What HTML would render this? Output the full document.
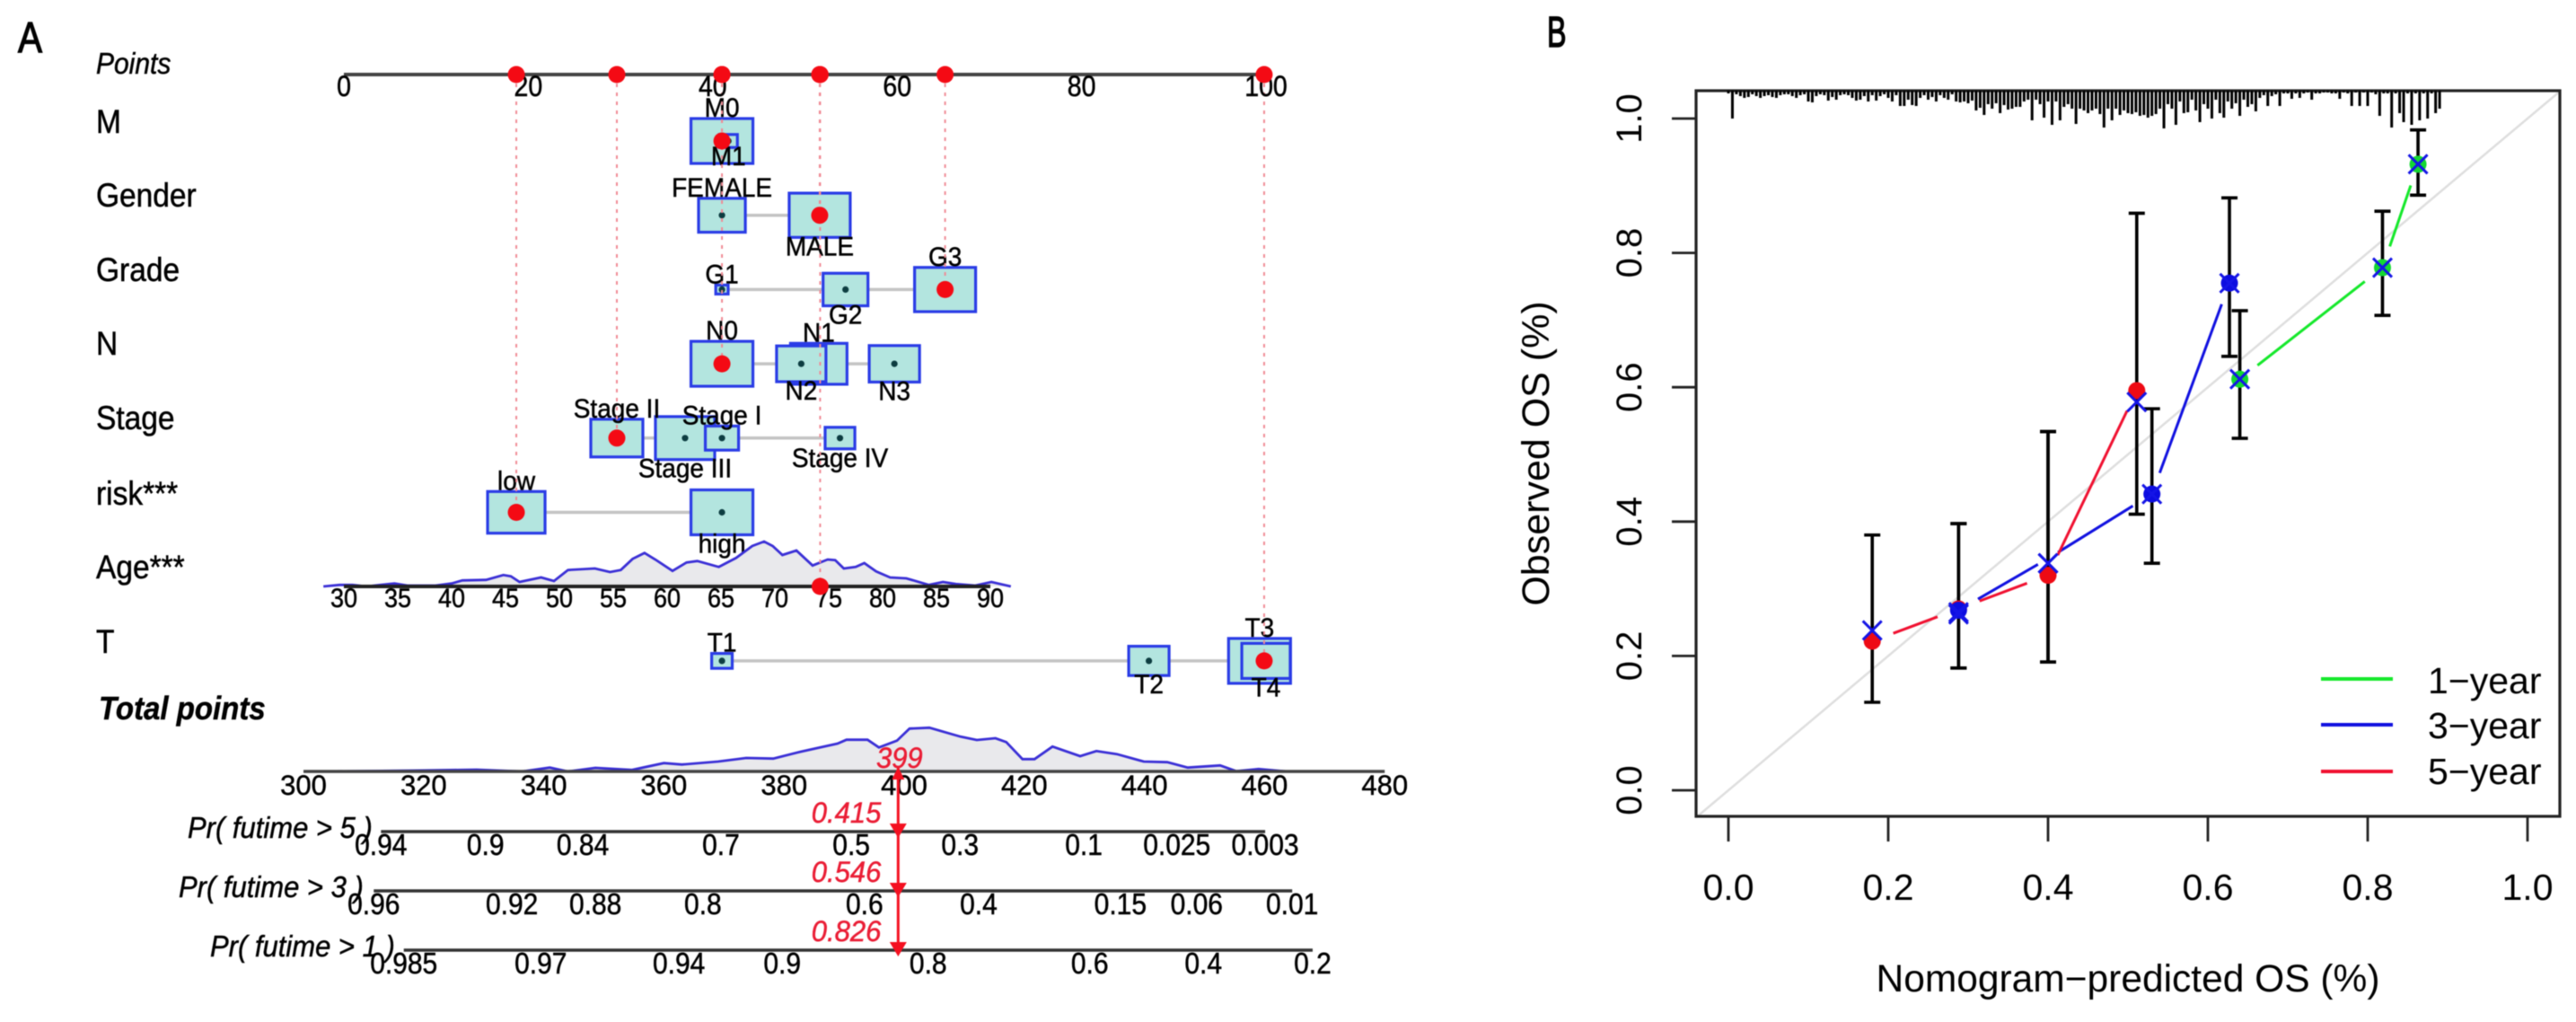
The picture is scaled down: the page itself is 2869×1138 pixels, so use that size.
<!DOCTYPE html>
<html lang="en">
<head>
<meta charset="utf-8">
<title>Nomogram and calibration curve</title>
<style>
html,body{margin:0;padding:0;background:#fff;}
svg{display:block;filter:blur(0.5px);}
text{font-family:"Liberation Sans",sans-serif;fill:#000;}
#panelA text{stroke:#000;stroke-width:.45px;}
</style>
</head>
<body>
<svg id="figure" xmlns="http://www.w3.org/2000/svg" width="2869" height="1138" viewBox="0 0 2869 1138">
<rect width="2869" height="1138" fill="#fff"/>
<g id="panelA">
<text transform="translate(20 58) scale(.88 1.05)" font-size="46" style="stroke-width:1.2px">A</text>
<text transform="translate(107 82) scale(1 1.1)" font-size="30" font-style="italic">Points</text>
<text transform="translate(107 148) scale(1 1.1)" font-size="33.5">M</text>
<text transform="translate(107 230) scale(1 1.1)" font-size="33.5">Gender</text>
<text transform="translate(107 313) scale(1 1.1)" font-size="33.5">Grade</text>
<text transform="translate(107 395) scale(1 1.1)" font-size="33.5">N</text>
<text transform="translate(107 478) scale(1 1.1)" font-size="33.5">Stage</text>
<text transform="translate(107 562) scale(1 1.1)" font-size="33.5">risk***</text>
<text transform="translate(107 644) scale(1 1.1)" font-size="33.5">Age***</text>
<text transform="translate(107 727) scale(1 1.1)" font-size="33.5">T</text>
<text transform="translate(110 801) scale(1 1.1)" font-size="33" font-style="italic" font-weight="bold">Total points</text>
<text transform="translate(209 933) scale(1 1.08)" font-size="31" font-style="italic">Pr( futime &gt; 5 )</text>
<text transform="translate(199 999) scale(1 1.08)" font-size="31" font-style="italic">Pr( futime &gt; 3 )</text>
<text transform="translate(234 1065) scale(1 1.08)" font-size="31" font-style="italic">Pr( futime &gt; 1 )</text>
</g>
<g id="panelB">
<text transform="translate(1723 52) scale(.7 1.05)" font-size="46" style="stroke:#000;stroke-width:1.4px">B</text>
<text transform="translate(1725 505) rotate(-90)" font-size="43" text-anchor="middle">Observed OS (%)</text>
<text x="2370" y="1104" font-size="42.5" text-anchor="middle">Nomogram−predicted OS (%)</text>
<line x1="2585" x2="2665" y1="756" y2="756" stroke="#14e82a" stroke-width="4"/>
<line x1="2585" x2="2665" y1="807" y2="807" stroke="#1010e0" stroke-width="4"/>
<line x1="2585" x2="2665" y1="859" y2="859" stroke="#f01030" stroke-width="4"/>
<text x="2704" y="772" font-size="41">1−year</text>
<text x="2704" y="822" font-size="41">3−year</text>
<text x="2704" y="873" font-size="41">5−year</text>
</g>
</svg>
<script>
// ---------- Panel A data ----------
const pointTicks = [0, 20, 40, 60, 80, 100];
const rowNames = ['m', 'gender', 'grade', 'n', 'stage', 'risk'];

const mLevels = ['M0', 'M1'];
const mPoints = [41, 41.7];
const mFreq = [100, 8.4];
const mSides = ['above', 'below'];

const genderLevels = ['FEMALE', 'MALE'];
const genderPoints = [41, 51.6];
const genderFreq = [57, 97];
const genderSides = ['above', 'below'];

const gradeLevels = ['G1', 'G2', 'G3'];
const gradePoints = [41, 54.4, 65.2];
const gradeFreq = [4, 52.5, 97];
const gradeSides = ['above', 'below', 'above'];

const nLevels = ['N0', 'N1', 'N2', 'N3'];
const nPoints = [41, 51.5, 49.6, 59.7];
const nFreq = [100, 83, 63.5, 66];
const nSides = ['above', 'above', 'below', 'below'];

const stageLevels = ['Stage II', 'Stage III', 'Stage I', 'Stage IV'];
const stagePoints = [29.6, 37, 41, 53.8];
const stageFreq = [70.6, 91.5, 28.8, 23];
const stageSides = ['above', 'below', 'above', 'below'];

const riskLevels = ['low', 'high'];
const riskPoints = [18.7, 41];
const riskFreq = [86, 100];
const riskSides = ['above', 'below'];

const tLevels = ['T1', 'T2', 'T3', 'T4'];
const tPoints = [41, 87.3, 99.3, 100];
const tFreq = [11, 42.5, 100, 61];
const tSides = ['above', 'below', 'above', 'below'];

const selectedPoints = [41, 51.6, 65.2, 41, 29.6, 18.7];
const selectedAge = 74.2;
const selectedT = 99.8;

const ageTicks = [30, 35, 40, 45, 50, 55, 60, 65, 70, 75, 80, 85, 90];
const ageGrid = [28.1,29.6,30.8,32.1,33.4,34.7,35.9,38.5,40,41,43.2,44.8,45.5,46.3,48.3,49.5,50.8,53.3,54.7,55.7,56.8,57.9,58.9,60.5,61.8,62.8,64.8,66.4,67.9,69,69.8,70.7,72,73.5,74.9,75.6,76.4,77.5,78.3,79.4,80.7,82.2,84.3,85.6,86.8,88.6,90.1,91.9];
const ageDensity = [0,1.7,1.7,0,1.7,3.3,1,1,3.3,6.7,7.3,12.7,11.3,5,10,6,18.3,20,16,18.3,30.7,37.3,30,17.3,26.7,28.3,21.7,31.7,45,50,45,35,40,23.3,30,29.3,20,21.7,26,16.7,10,9,1.7,5,2.7,1,5,0];

const totalTicks = [300, 320, 340, 360, 380, 400, 420, 440, 460, 480];
const totalGrid = [304,318.1,328.8,336.4,341,344,348.6,354.7,360,363,369,373.7,378.2,382.8,388.9,390.4,393.9,395.8,398.8,400.9,404.2,409.4,412.1,415.2,417,419.7,421.7,424.7,429.3,432,435.4,439.9,443.8,447.2,452.6,455.3,459,463.7];
const totalDensity = [0,1,2,0,4.3,0,4,1.7,9.3,7.7,11,15,14.3,22,31,35.3,35.3,26.7,34.3,47.7,48.7,38.7,35,37,32.7,13.7,13.7,27.7,17,22.7,19.3,11,10.3,4.3,6.7,0.3,2.7,0];
const selectedTotal = 399;

const pr5Labels = ['0.94', '0.9', '0.84', '0.7', '0.5', '0.3', '0.1', '0.025', '0.003'];
const pr5Totals = [312.9, 330.3, 346.5, 369.5, 391.2, 409.3, 429.9, 445.4, 460.1];
const pr3Labels = ['0.96', '0.92', '0.88', '0.8', '0.6', '0.4', '0.15', '0.06', '0.01'];
const pr3Totals = [311.7, 334.7, 348.6, 366.5, 393.4, 412.4, 436, 448.7, 464.6];
const pr1Labels = ['0.985', '0.97', '0.94', '0.9', '0.8', '0.6', '0.4', '0.2'];
const pr1Totals = [316.7, 339.5, 362.5, 379.7, 404, 430.9, 449.8, 468];
const predictedValues = ['0.415', '0.546', '0.826'];

// ---------- Panel B data ----------
const calTicks = [0, 0.2, 0.4, 0.6, 0.8, 1];
const calTickLabels = ['0.0', '0.2', '0.4', '0.6', '0.8', '1.0'];

const oneYearPred = [0.64, 0.8185, 0.863];
const oneYearObs = [0.612, 0.778, 0.932];
const oneYearLower = [0.524, 0.707, 0.886];
const oneYearUpper = [0.714, 0.862, 0.983];
const oneYearCorrected = [0.612, 0.778, 0.932];

const threeYearPred = [0.288, 0.40, 0.53, 0.627];
const threeYearObs = [0.268, 0.345, 0.441, 0.755];
const threeYearLower = [0.182, 0.191, 0.338, 0.646];
const threeYearUpper = [0.397, 0.534, 0.568, 0.882];
const threeYearCorrected = [0.265, 0.338, 0.441, 0.755];
const threeYearDotShown = [true, false, true, true];

const fiveYearPred = [0.18, 0.288, 0.40, 0.511];
const fiveYearObs = [0.222, 0.27, 0.32, 0.595];
const fiveYearLower = [0.131, 0.182, 0.191, 0.411];
const fiveYearUpper = [0.38, 0.397, 0.534, 0.859];
const fiveYearCorrected = [0.238, 0.262, 0.338, 0.578];

const rugBinWidth = 0.005;
const rugCounts = [
3,31,4,6,8,7,4,6,8,6,5,7,8,5,4,4,6,8,5,4,
12,13,6,4,5,11,7,10,5,4,5,8,11,10,6,12,5,11,6,4,
8,12,5,17,17,10,16,17,8,5,10,7,12,5,8,10,4,12,13,12,
14,11,22,19,27,15,20,14,25,16,21,20,18,18,12,10,33,10,15,30,
12,38,12,33,18,15,20,37,20,22,25,22,20,26,41,20,33,20,27,22,
25,26,24,28,27,30,28,26,20,42,15,20,38,12,25,24,10,22,35,15,
20,31,10,25,30,12,20,14,28,10,18,15,23,8,5,17,6,4,17,3,
3,9,3,8,3,2,10,3,3,2,2,3,3,9,2,3,17,2,17,2,
17,2,4,28,3,3,41,3,25,35,3,38,3,33,3,31,3,25,20
];

// ---------- Scales ----------
const xPts = p => 383 + 10.27 * p;
const xAge = a => 383 + 12 * (a - 30);
const xTotal = t => 338 + 6.69 * (t - 300);
const rowY = i => 157 + 82.7 * i;
const boxWidth = f => 6.9 * Math.sqrt(f);
const xCal = v => 1925 + 890 * v;
const yCal = v => 880 - 748 * v;
const plotLeft = 1889, plotRight = 2851, plotTop = 101, plotBottom = 909;

const NS = 'http://www.w3.org/2000/svg';
const panelA = document.getElementById('panelA');
const panelB = document.getElementById('panelB');

function make(tag, parent, name, attrs) {
  const el = document.createElementNS(NS, tag);
  
  
  for (const k in attrs) el.setAttribute(k, attrs[k]);
  parent.appendChild(el);
  return el;
}
function line(parent, name, x1, y1, x2, y2, stroke, w, extra) {
  return make('line', parent, name, Object.assign({x1, y1, x2, y2, stroke, 'stroke-width': w}, extra || {}));
}
function label(parent, name, x, y, str, size, sy, extra) {
  const el = make('text', parent, name, Object.assign({
    transform: 'translate(' + x + ' ' + y + ') scale(1 ' + sy + ')',
    'font-size': size, 'text-anchor': 'middle'
  }, extra || {}));
  el.textContent = str;
  return el;
}
function density(parent, name, grid, vals, xFn, baseY) {
  const pts = grid.map((g, i) => xFn(g).toFixed(1) + ',' + (baseY - vals[i]).toFixed(1));
  const first = xFn(grid[0]).toFixed(1), last = xFn(grid[grid.length - 1]).toFixed(1);
  make('polygon', parent, name + '-fill', {points: first + ',' + baseY + ' ' + pts.join(' ') + ' ' + last + ',' + baseY, fill: '#e9e9ec'});
  make('polyline', parent, name + '-line', {points: pts.join(' '), fill: 'none', stroke: '#3a2fd6', 'stroke-width': 2.8});
}

// ---------- Panel A drawing ----------
const rowLevels = [mLevels, genderLevels, gradeLevels, nLevels, stageLevels, riskLevels];
const rowPoints = [mPoints, genderPoints, gradePoints, nPoints, stagePoints, riskPoints];
const rowFreq = [mFreq, genderFreq, gradeFreq, nFreq, stageFreq, riskFreq];
const rowSides = [mSides, genderSides, gradeSides, nSides, stageSides, riskSides];
const tRow = 7, ageRow = 6, axisY = 83;

function drawRow(name, y, levels, pts, freq, sides) {
  line(panelA, name + '-connector', xPts(Math.min.apply(null, pts)), y, xPts(Math.max.apply(null, pts)), y, '#c4c4c4', 3.5);
  levels.forEach((lev, i) => {
    const w = boxWidth(freq[i]), h = w / 1.38, cx = xPts(pts[i]);
    make('rect', panelA, name + '-box-' + lev.replace(' ', '-').toLowerCase(), {
      x: cx - w / 2, y: y - h / 2, width: w, height: h, fill: '#b3e5df', stroke: '#2a3ce6', 'stroke-width': 3.2
    });
    make('circle', panelA, name + '-marker-' + i, {cx, cy: y, r: 3.6, fill: '#0c3c40'});
  });
  levels.forEach((lev, i) => {
    const w = boxWidth(freq[i]), h = w / 1.38;
    const by = sides[i] === 'above' ? y - h / 2 - 2 : y + h / 2 + 20;
    label(panelA, name + '-label-' + i, xPts(pts[i]), by, lev, 28, 1.07);
  });
}

rowNames.forEach((nm, r) => drawRow(nm, rowY(r), rowLevels[r], rowPoints[r], rowFreq[r], rowSides[r]));
drawRow('t', rowY(tRow), tLevels, tPoints, tFreq, tSides);

// age axis
const ageY = rowY(ageRow) - 0.2;
density(panelA, 'age-density', ageGrid, ageDensity, xAge, ageY);
line(panelA, 'age-axis', xAge(30), ageY, xAge(90), ageY, '#222', 4);
ageTicks.forEach(a => label(panelA, 'age-tick-' + a, xAge(a), ageY + 23, a, 27, 1.1));

// selected drop lines
const dashStyle = {'stroke-dasharray': '4 6'};
selectedPoints.forEach((p, r) => {
  line(panelA, 'drop-line-' + rowNames[r], xPts(p), axisY, xPts(p), rowY(r), '#f08a94', 2, dashStyle);
});
line(panelA, 'drop-line-age', xAge(selectedAge), axisY, xAge(selectedAge), ageY, '#f08a94', 2, dashStyle);
line(panelA, 'drop-line-t', xPts(selectedT), axisY, xPts(selectedT), rowY(tRow), '#f08a94', 2, dashStyle);

// points axis
line(panelA, 'points-axis', xPts(0), axisY, xPts(100), axisY, '#444', 4);
pointTicks.forEach(p => label(panelA, 'points-tick-' + p, xPts(p), 107, p, 28.5, 1.15));

// selected dots
selectedPoints.forEach((p, r) => {
  make('circle', panelA, 'axis-dot-' + rowNames[r], {cx: xPts(p), cy: axisY, r: 9.5, fill: '#f40a14'});
  make('circle', panelA, 'row-dot-' + rowNames[r], {cx: xPts(p), cy: rowY(r), r: 9.5, fill: '#f40a14'});
});
make('circle', panelA, 'axis-dot-age', {cx: xAge(selectedAge), cy: axisY, r: 9.5, fill: '#f40a14'});
make('circle', panelA, 'row-dot-age', {cx: xAge(selectedAge), cy: ageY, r: 9.5, fill: '#f40a14'});
make('circle', panelA, 'axis-dot-t', {cx: xPts(selectedT), cy: axisY, r: 9.5, fill: '#f40a14'});
make('circle', panelA, 'row-dot-t', {cx: xPts(selectedT), cy: rowY(tRow), r: 9.5, fill: '#f40a14'});

// total points axis
const totalY = 859;
density(panelA, 'total-density', totalGrid, totalDensity, xTotal, totalY);
line(panelA, 'total-axis', xTotal(300), totalY, xTotal(480), totalY, '#444', 3.5);
totalTicks.forEach(t => label(panelA, 'total-tick-' + t, xTotal(t), 885, t, 31, 1.02));

// probability axes
const prYs = [926, 992, 1058];
const prTotals = [pr5Totals, pr3Totals, pr1Totals];
const prLabels = [pr5Labels, pr3Labels, pr1Labels];
const prNames = ['pr-5-year', 'pr-3-year', 'pr-1-year'];
prYs.forEach((y, k) => {
  const tot = prTotals[k];
  line(panelA, prNames[k] + '-axis', xTotal(tot[0]), y, xTotal(tot[tot.length - 1]), y, '#333', 3.5);
  tot.forEach((t, i) => label(panelA, prNames[k] + '-tick-' + i, xTotal(t), y + 26, prLabels[k][i], 30, 1.1));
});

// prediction arrow
const sx = xTotal(selectedTotal);
line(panelA, 'prediction-line', sx, totalY - 4, sx, 1060, '#f41020', 3);
make('polygon', panelA, 'prediction-arrow-top', {points: (sx - 7) + ',868 ' + (sx + 7) + ',868 ' + sx + ',854', fill: '#f41020'});
prYs.forEach((y, k) => {
  make('polygon', panelA, prNames[k] + '-arrow', {points: (sx - 9.5) + ',' + (y - 9) + ' ' + (sx + 9.5) + ',' + (y - 9) + ' ' + sx + ',' + (y + 7), fill: '#f41020'});
  label(panelA, prNames[k] + '-predicted-value', sx - 19, y - 10, predictedValues[k], 31, 1.05, {'text-anchor': 'end', 'font-style': 'italic', style: 'fill:#ea1c34;stroke:#ea1c34'});
});
label(panelA, 'total-points-value', sx + 1.5, totalY - 4, selectedTotal, 31, 1.05, {'font-style': 'italic', style: 'fill:#ea1c34;stroke:#ea1c34'});

// ---------- Panel B drawing ----------
// diagonal reference line through (0,0)-(1,1), clipped to the plot box
const diagLow = (plotLeft - xCal(0)) / 890;
const diagHigh = (plotRight - xCal(0)) / 890;
line(panelB, 'reference-diagonal', xCal(diagLow), yCal(diagLow), xCal(diagHigh), yCal(diagHigh), '#dedede', 2.5);

// axes
make('rect', panelB, 'plot-box', {x: plotLeft, y: plotTop, width: plotRight - plotLeft, height: plotBottom - plotTop, fill: 'none', stroke: '#222', 'stroke-width': 3.2});
calTicks.forEach((v, i) => {
  line(panelB, 'x-tick-' + calTickLabels[i], xCal(v), plotBottom, xCal(v), plotBottom + 28, '#222', 2.8);
  const xt = make('text', panelB, 'x-tick-label-' + calTickLabels[i], {x: xCal(v), y: 1002, 'font-size': 41, 'text-anchor': 'middle'});
  xt.textContent = calTickLabels[i];
  line(panelB, 'y-tick-' + calTickLabels[i], plotLeft, yCal(v), plotLeft - 27, yCal(v), '#222', 2.8);
  const yt = make('text', panelB, 'y-tick-label-' + calTickLabels[i], {
    transform: 'translate(1828 ' + yCal(v) + ') rotate(-90)', 'font-size': 40, 'text-anchor': 'middle'
  });
  yt.textContent = calTickLabels[i];
});

// rug histogram along the top edge
rugCounts.forEach((c, i) => {
  const rx = xCal(i * rugBinWidth);
  line(panelB, 'rug-bar-' + i, rx, plotTop, rx, plotTop + c, '#000', 3);
});

function errorBars(name, pred, lower, upper) {
  pred.forEach((p, i) => {
    const x = xCal(p);
    line(panelB, name + '-error-bar-' + i, x, yCal(lower[i]), x, yCal(upper[i]), '#000', 3.6);
    line(panelB, name + '-error-cap-upper-' + i, x - 9, yCal(upper[i]), x + 9, yCal(upper[i]), '#000', 3.6);
    line(panelB, name + '-error-cap-lower-' + i, x - 9, yCal(lower[i]), x + 9, yCal(lower[i]), '#000', 3.6);
  });
}
function gappedLine(name, pred, obs, color, gapAt) {
  for (let i = 0; i < pred.length - 1; i++) {
    const x1 = xCal(pred[i]), y1 = yCal(obs[i]), x2 = xCal(pred[i + 1]), y2 = yCal(obs[i + 1]);
    const d = Math.hypot(x2 - x1, y2 - y1);
    const g1 = gapAt(i), g2 = gapAt(i + 1);
    line(panelB, name + '-segment-' + i,
      x1 + (x2 - x1) * g1 / d, y1 + (y2 - y1) * g1 / d,
      x2 - (x2 - x1) * g2 / d, y2 - (y2 - y1) * g2 / d, color, 3);
  }
}
function dots(name, pred, obs, color, shown) {
  pred.forEach((p, i) => {
    if (shown && !shown[i]) return;
    make('circle', panelB, name + '-point-' + i, {cx: xCal(p), cy: yCal(obs[i]), r: 9.5, fill: color});
  });
}
function crosses(name, pred, corrected) {
  pred.forEach((p, i) => {
    const x = xCal(p), y = yCal(corrected[i]), s = 10.5;
    line(panelB, name + '-corrected-a-' + i, x - s, y - s, x + s, y + s, '#1414e6', 3);
    line(panelB, name + '-corrected-b-' + i, x - s, y + s, x + s, y - s, '#1414e6', 3);
  });
}

errorBars('one-year', oneYearPred, oneYearLower, oneYearUpper);
errorBars('three-year', threeYearPred, threeYearLower, threeYearUpper);
errorBars('five-year', fiveYearPred, fiveYearLower, fiveYearUpper);

gappedLine('one-year', oneYearPred, oneYearObs, '#14e82a', () => 25);
gappedLine('three-year', threeYearPred, threeYearObs, '#1010e0', i => threeYearDotShown[i] ? 25 : 13);
gappedLine('five-year', fiveYearPred, fiveYearObs, '#f01030', () => 25);

dots('five-year', fiveYearPred, fiveYearObs, '#ee0a14');
dots('three-year', threeYearPred, threeYearObs, '#0c0ce0', threeYearDotShown);
dots('one-year', oneYearPred, oneYearObs, '#14d832');

crosses('five-year', fiveYearPred, fiveYearCorrected);
crosses('three-year', threeYearPred, threeYearCorrected);
crosses('one-year', oneYearPred, oneYearCorrected);
</script>
</body>
</html>
